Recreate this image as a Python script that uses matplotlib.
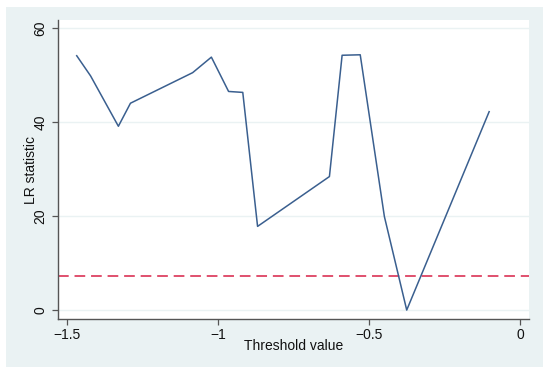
import matplotlib
matplotlib.use("Agg")
import matplotlib.pyplot as plt
from matplotlib.patches import Rectangle

threshold = [-1.468, -1.422, -1.330, -1.290, -1.084, -1.022, -0.965, -0.918,
             -0.869, -0.631, -0.589, -0.529, -0.449, -0.375, -0.102]
lr_stat = [54.1, 49.8, 39.1, 44.0, 50.5, 53.8, 46.5, 46.3,
           17.8, 28.4, 54.2, 54.3, 19.9, 0.0, 42.2]
critical_value = 7.35
x_ticks = [-1.5, -1, -0.5, 0]
x_ticklabels = ["\u22121.5", "\u22121", "\u22120.5", "0"]
y_ticks = [0, 20, 40, 60]

plt.rcParams['font.family'] = ['Liberation Sans', 'DejaVu Sans']

fig = plt.figure(figsize=(5.5, 3.74), dpi=100, facecolor='white')
bg = Rectangle((6/550, 1-367/374), (543-6)/550, (367-7)/374,
               transform=fig.transFigure, facecolor='#eaf2f3', edgecolor='none', zorder=0)
fig.patches.append(bg)

ax = fig.add_axes([58/550, 1-319/374, (529-58)/550, (319-20)/374])
ax.set_facecolor('white')
ax.set_zorder(1)

ax.plot(threshold, lr_stat, color='#3a5f8f', lw=1.1, zorder=3)
ax.axhline(critical_value, color='#e0506e', lw=1.4, dashes=(5.5, 3), zorder=2)

ax.set_xlim(-1.53, 0.03)
ax.set_ylim(-1.9, 61.7)
ax.set_xticks(x_ticks)
ax.set_xticklabels(x_ticklabels)
ax.set_yticks(y_ticks)
ax.set_yticklabels([str(v) for v in y_ticks], rotation=90, va='center')

for y in y_ticks:
    ax.axhline(y, color='#eaf2f3', lw=1.0, zorder=1)

for s in ['top', 'right']:
    ax.spines[s].set_visible(False)
for s in ['left', 'bottom']:
    ax.spines[s].set_color('#555555')
    ax.spines[s].set_linewidth(1.0)

ax.tick_params(axis='both', colors='#555555', labelcolor='#111111', length=4.5,
               width=0.9, labelsize=10)
ax.tick_params(axis='y', pad=3)
ax.tick_params(axis='x', pad=2)

ax.set_xlabel('Threshold value', fontsize=10, color='#111111', labelpad=-2)
ax.set_ylabel('LR statistic', fontsize=10, color='#111111', labelpad=-3)

fig.savefig('out.png', dpi=100, facecolor='white')
